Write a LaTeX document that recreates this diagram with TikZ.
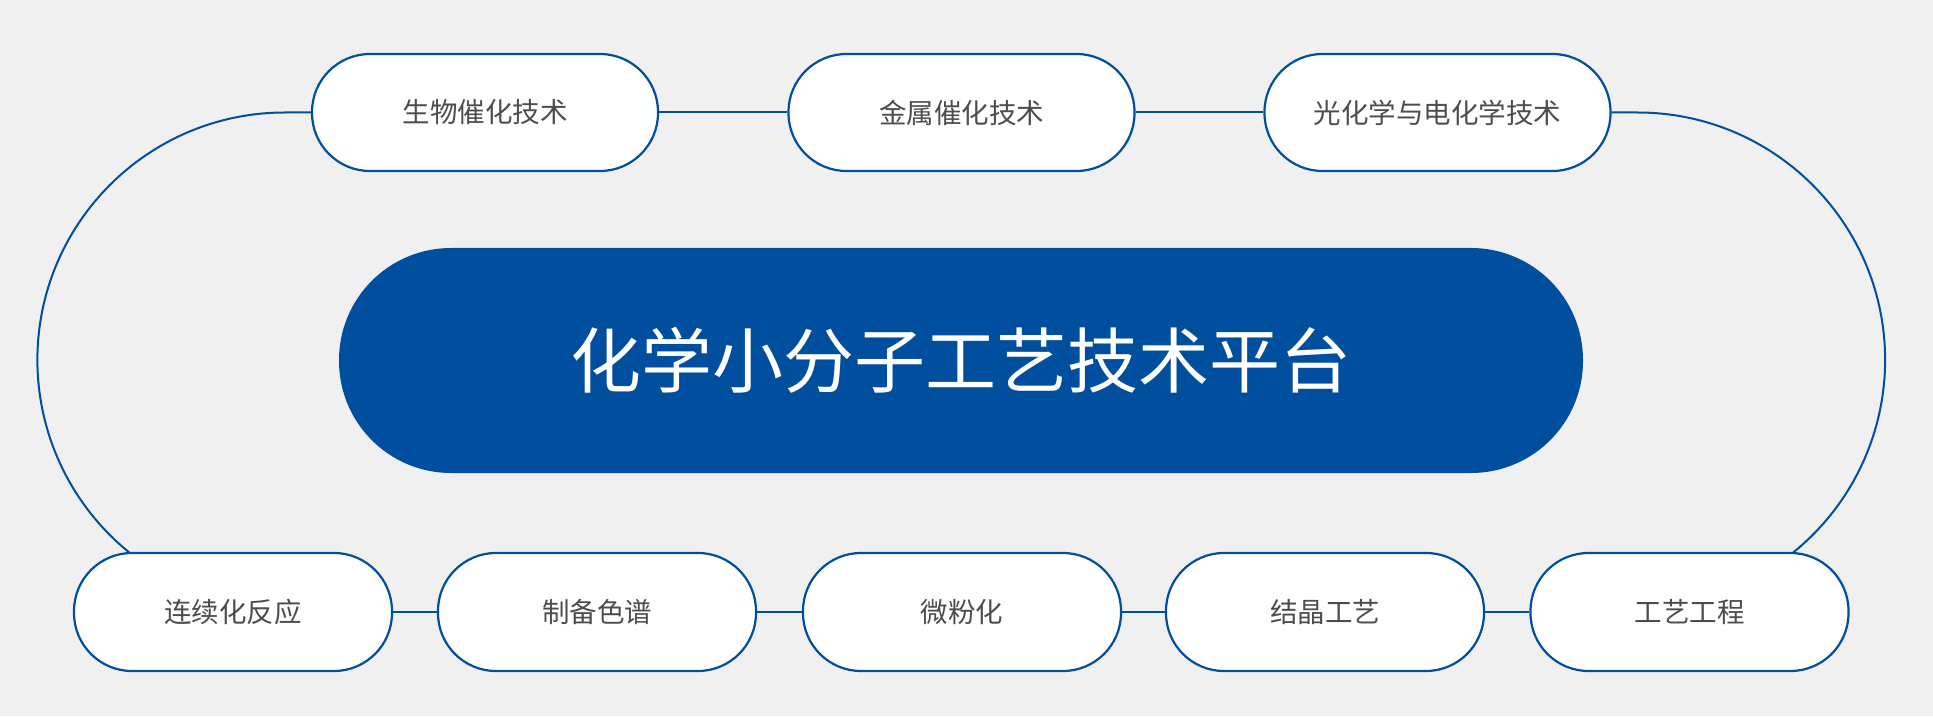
\documentclass[tikz,border=0pt]{standalone}
\usepackage{fontspec}
\setmainfont{Noto Sans CJK SC}
\usetikzlibrary{backgrounds}
\definecolor{brandblue}{HTML}{004E9E}
\definecolor{bgray}{HTML}{F0F0F0}
\definecolor{txtgray}{HTML}{4D4D4D}
\tikzset{
  pill/.style={draw=brandblue, line width=2.2pt, fill=white, rounded corners=58pt,
    inner sep=0pt, text=txtgray, font=\fontsize{27.5}{33}\selectfont},
  toppill/.style={pill, minimum width=346pt, minimum height=117pt},
  botpill/.style={pill, minimum width=318pt, minimum height=118pt},
  mainpill/.style={fill=brandblue, rounded corners=112pt, minimum width=1244pt,
    minimum height=225pt, inner sep=0pt, text=white, font=\fontsize{71}{85}\selectfont},
  conn/.style={draw=brandblue, line width=2pt},
}
\begin{document}
\begin{tikzpicture}[x=1pt,y=1pt]
\useasboundingbox (0,0) rectangle (1933,716);
% top row
\node[toppill] (p1) at (485,603.5) {\raisebox{-6pt}{生物催化技术}};
\node[toppill] (p2) at (961.5,603.5) {金属催化技术};
\node[toppill] (p3) at (1437.5,603.5) {\raisebox{-6pt}{光化学与电化学技术}};
% centre
\node[mainpill] (core) at (961,355.5) {\raisebox{3pt}{化学小分子工艺技术平台}};
% bottom row
\node[botpill] (b1) at (233,104) {\raisebox{-5.5pt}{连续化反应}};
\node[botpill] (b2) at (597,104) {\raisebox{-5.5pt}{制备色谱}};
\node[botpill] (b3) at (962,104) {\raisebox{-5.5pt}{微粉化}};
\node[botpill] (b4) at (1325,104) {\raisebox{-5.5pt}{结晶工艺}};
\node[botpill] (b5) at (1689.5,104) {\raisebox{-5.5pt}{工艺工程}};
\begin{scope}[on background layer]
  \fill[bgray] (0,0) rectangle (1933,716);
  \draw[conn] (p1) -- (p2);
  \draw[conn] (p2) -- (p3);
  \draw[conn] (b1) -- (b2);
  \draw[conn] (b2) -- (b3);
  \draw[conn] (b3) -- (b4);
  \draw[conn] (b4) -- (b5);
  \draw[conn] (p1.west) -- ++(-26,0) arc[start angle=90, end angle=231, radius=247.5];
  \draw[conn] (p3.east) -- ++(26,0) arc[start angle=90, end angle=-51, radius=247.5];
\end{scope}
\end{tikzpicture}
\end{document}
